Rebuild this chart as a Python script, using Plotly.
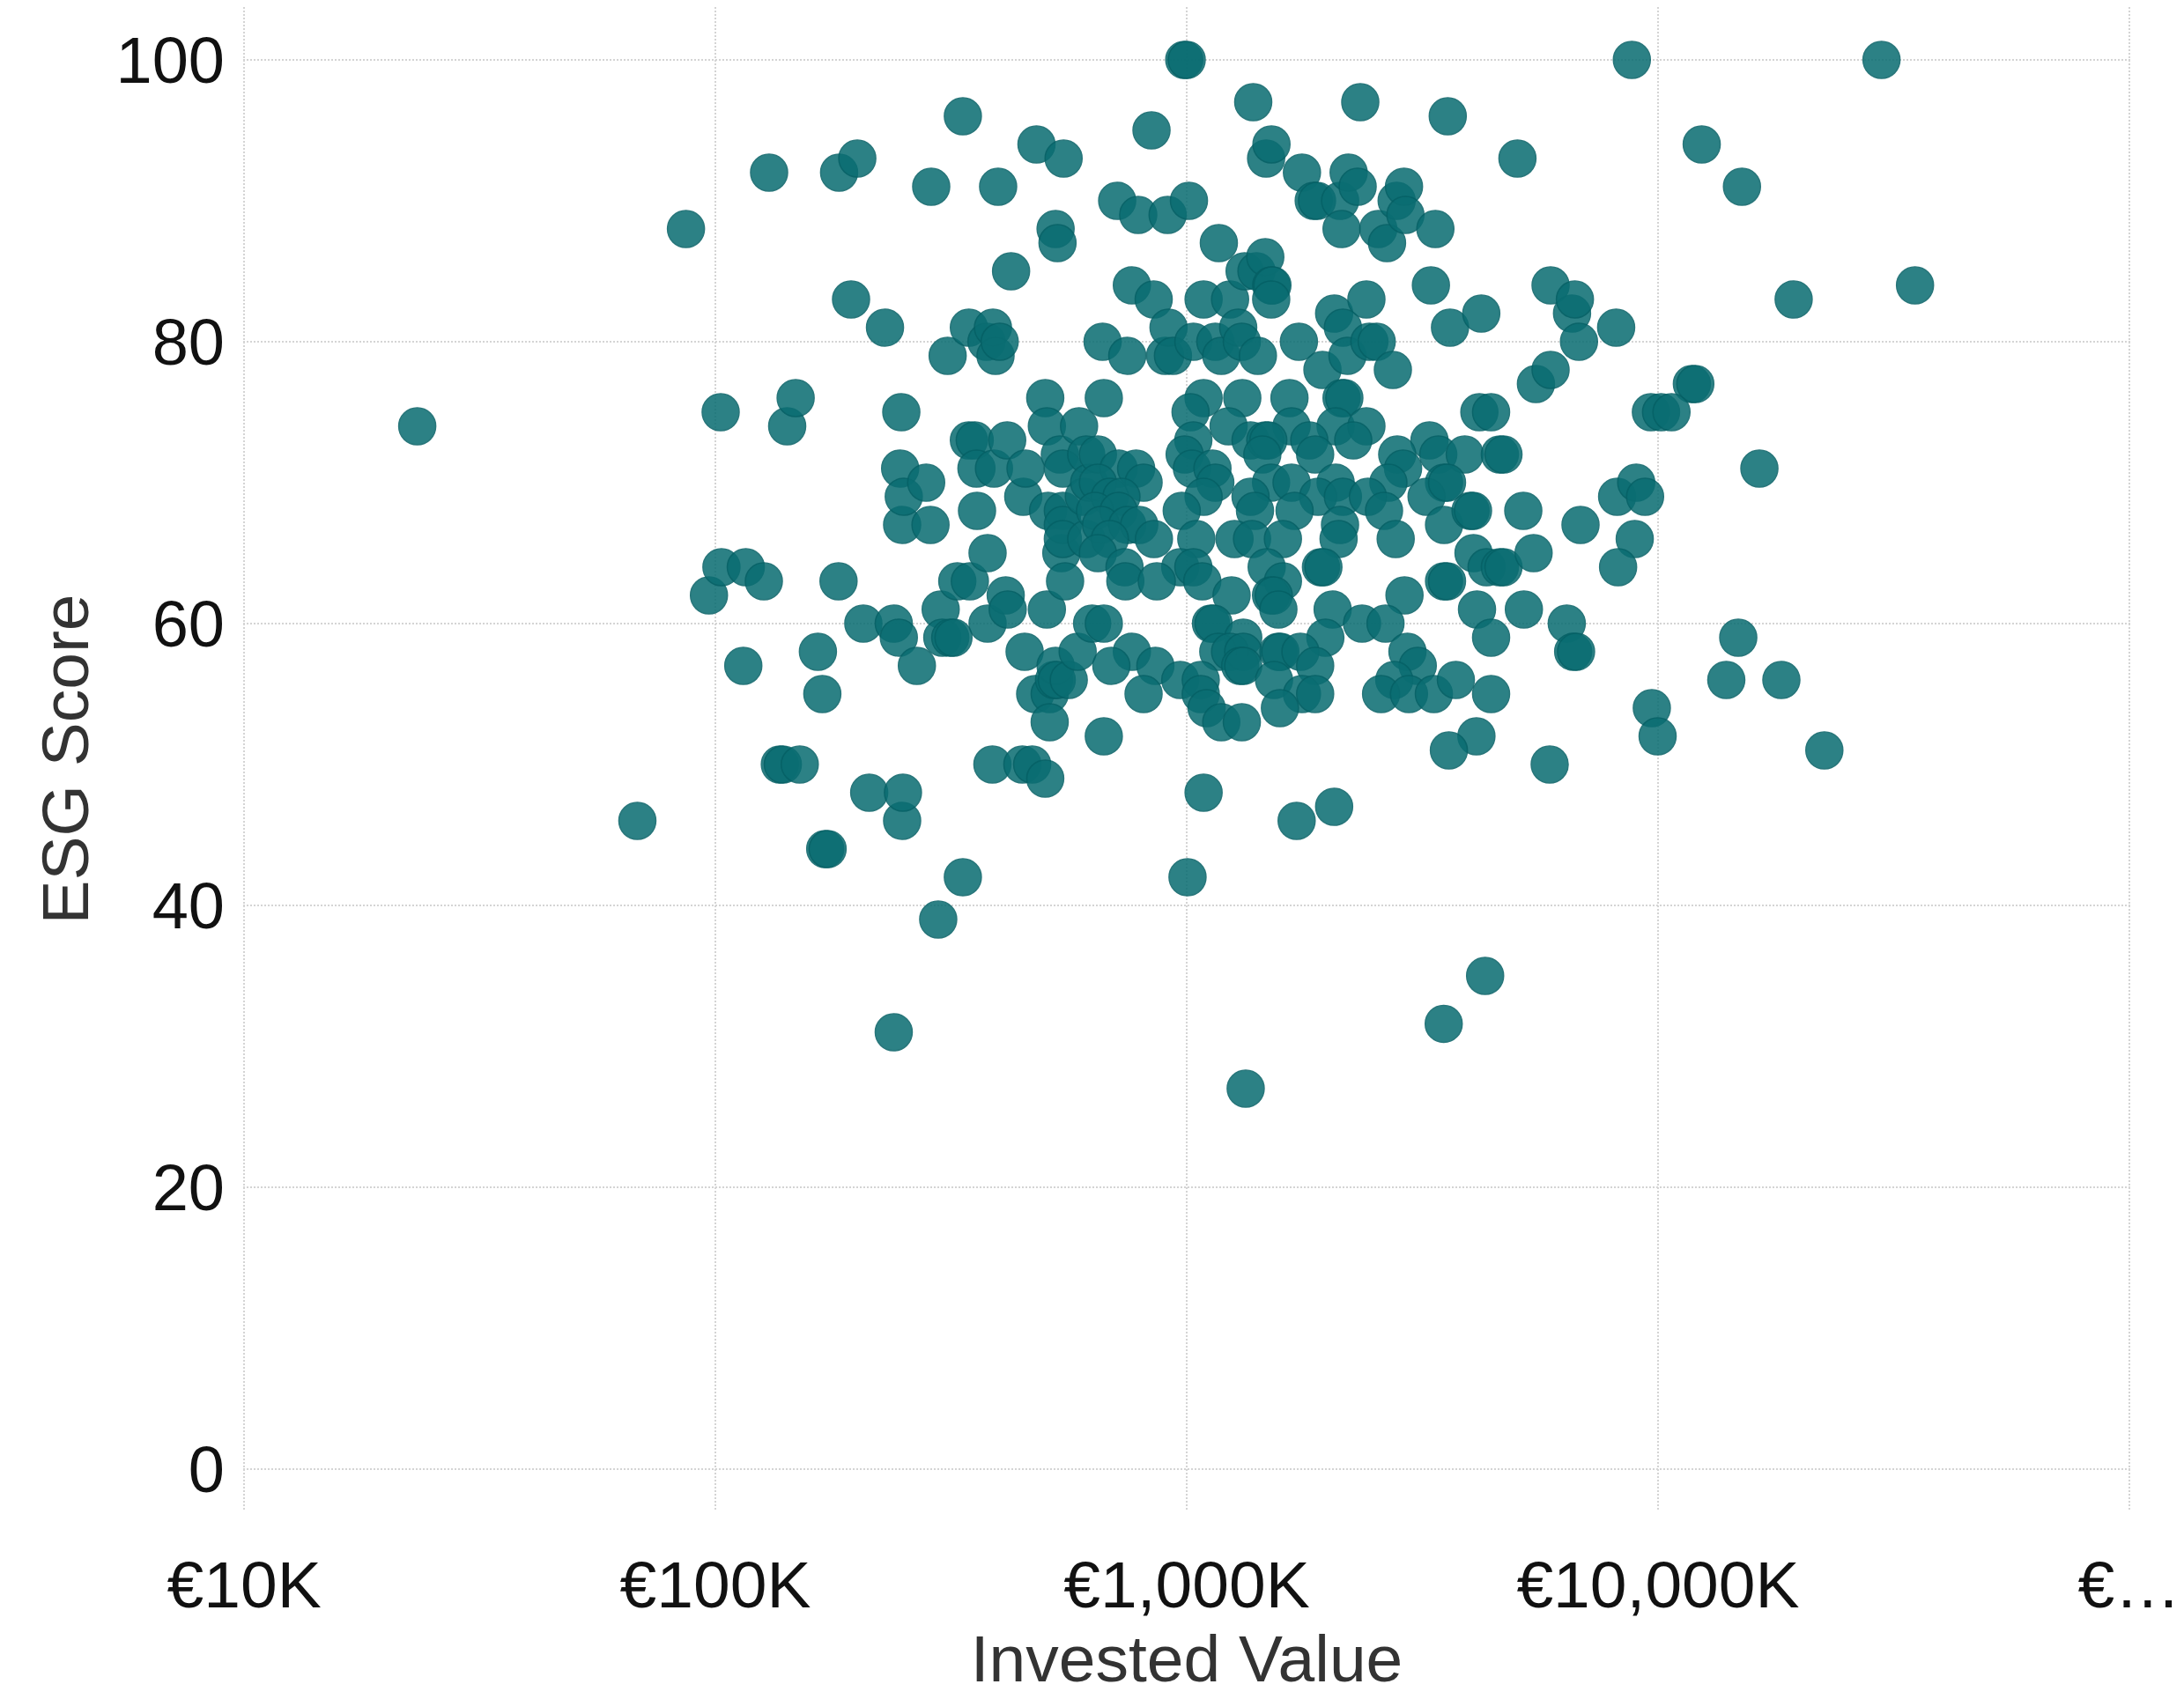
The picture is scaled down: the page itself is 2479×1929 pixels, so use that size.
import plotly.graph_objects as go

# Invested value in thousands of euros, ESG score
invested_a = [23.3, 68.3, 86.6, 96.9, 102.6, 103, 114.6, 116, 126.7, 130,
              137, 139, 142, 148, 151, 165, 168.6, 171, 173, 182.5,
              183, 194, 200, 206, 212, 229, 239, 239, 245, 246.6,
              248, 249, 249, 250, 251, 267.6, 280, 286, 287, 297,
              300.6, 303, 311, 315, 320, 326, 335, 335, 345, 345,
              346.7, 355, 358, 359, 376, 378, 378, 387, 388, 390,
              393, 398, 401, 413, 416, 417, 424, 448, 450, 453,
              455, 470, 477, 480, 501, 501, 505, 505, 508, 512,
              512, 523, 527, 527, 530, 532, 538, 542, 546, 546,
              546, 546, 548, 552, 562, 587, 591, 605, 612, 612,
              621, 630]
esg_a = [74, 46, 88, 62, 75, 64, 57, 64, 63, 92,
         50, 50, 74, 76, 50, 58, 55, 44, 44, 63,
         92, 83, 93, 60, 48, 81, 60, 31, 59, 71,
         75, 67, 46, 48, 69, 57, 70, 67, 91, 39,
         61, 59, 79, 59, 59, 63, 96, 42, 81, 73,
         63, 73, 71, 68, 80, 60, 65, 50, 81, 71,
         79, 91, 80, 62, 73, 61, 85, 50, 69, 58,
         71, 50, 55, 94, 76, 49, 74, 61, 68, 55,
         53, 56, 88, 57, 56, 87, 72, 65, 71, 68,
         67, 66, 93, 63, 56, 58, 74, 69, 72, 66,
         70, 60]

invested_b = [663, 712, 748, 765, 789, 842, 851, 900, 911, 915,
              935, 988, 1000, 1011, 1033, 1086, 1150, 1170, 1184, 1236,
              1286, 1309, 1327, 1384, 1406, 1416, 1468, 1474, 1511, 1520,
              1511, 1513, 1730, 1756, 1860, 1890, 1941, 2055, 2116, 2131,
              2145, 2193, 2206, 2305, 2335, 2406, 2441, 2530, 2550, 2661,
              2738, 2789, 2891, 2911, 3297, 3370]
esg_b = [80, 90, 79, 84, 89, 95, 83, 79, 89, 81,
         79, 100, 100, 90, 80, 83, 80, 87, 79, 83,
         81, 80, 85, 97, 85, 79, 86, 93, 84, 84,
         83, 94, 80, 92, 90, 90, 78, 82, 90, 88,
         81, 79, 92, 91, 97, 83, 80, 80, 88, 87,
         78, 90, 91, 89, 84, 88]

invested_c = [667, 1086, 1312, 1652, 2131, 2160,
              1019,
              1227, 1669, 2070, 2406,
              1033, 1366, 1468, 1490, 1820, 2256, 3274,
              648, 990, 1447, 1873, 2797, 3418,
              717, 781, 1026, 1134, 2878,
              648, 810, 1150, 1510, 1669, 2070, 2679, 3516,
              687, 727, 1086, 1366, 1900, 2145, 2424, 3228,
              639, 717, 976, 1396, 1694, 2622,
              658, 748, 793, 2115, 3516,
              687, 852, 1048, 1263, 1376, 1600, 2100, 2776,
              648,
              738, 969, 1033, 1478, 1927, 1950,
              741, 864, 1079, 1600, 3516,
              1245, 1510, 1530, 2898,
              1565, 2040,
              667, 1126, 1140, 2355, 2641,
              1318, 1969,
              765, 1167, 1236, 1318, 1565, 1580, 1743, 2940,
              692, 858, 1299, 1318, 1873, 3092,
              969, 1071, 1532, 2757,
              810, 1071, 1756, 1873, 2585, 2962, 3345,
              1102, 1577,
              1184, 1309,
              667]
esg_c = [76, 76, 76, 76, 76, 76,
         75,
         74, 74, 74, 74,
         73, 73, 73, 73, 73, 73, 73,
         72, 72, 72, 72, 72, 72,
         71, 71, 71, 71, 71,
         70, 70, 70, 70, 70, 70, 70, 70,
         69, 69, 69, 69, 69, 69, 69, 69,
         68, 68, 68, 68, 68, 68,
         67, 67, 67, 67, 67,
         66, 66, 66, 66, 66, 66, 66, 66,
         65,
         64, 64, 64, 64, 64, 64,
         63, 63, 63, 63, 63,
         62, 62, 62, 62,
         61, 61,
         60, 60, 60, 60, 60,
         59, 59,
         58, 58, 58, 58, 58, 58, 58, 58,
         57, 57, 57, 57, 57, 57,
         56, 56, 56, 56,
         55, 55, 55, 55, 55, 55, 55,
         54, 54,
         53, 53,
         52]

invested_d = [3580, 3620, 4217, 5032, 5508, 5916, 5916, 6570, 6663, 6797,
              8150, 8800, 11800, 12000, 12380, 15070, 19400]
esg_d = [96, 81, 82, 93, 77, 84, 78, 82, 83, 80,
         81, 100, 77, 77, 94, 91, 83]

invested_e = [4178, 4424, 9659, 10150, 10680, 16410, 3890, 4618, 4700, 3567,
              4002, 4050, 5178, 4060, 4328, 4618, 4700, 5445, 6848, 8190,
              8990, 9387, 8925, 8228, 3567, 4130, 5193, 4424, 6403, 6607,
              6700, 14800, 13960, 18270, 3725, 4424, 4118, 9702, 9980]
esg_e = [75, 75, 75, 75, 75, 71, 72, 72, 72, 70,
         68, 68, 68, 65, 64, 64, 64, 65, 67, 69,
         70, 69, 66, 64, 63, 61, 61, 59, 60, 58,
         58, 59, 56, 56, 56, 55, 52, 54, 52]

invested_f = [1004, 1086, 1334, 1711, 2055, 3510, 3600, 4297, 5891, 22540, 29800, 35100]
esg_f = [42, 48, 27, 46, 47, 31.6, 51, 35, 50, 51, 100, 84]

tick_values = [10, 100, 1000, 10000, 100000]
tick_labels = ["€10K", "€100K", "€1,000K", "€10,000K", "€…"]
y_ticks = [0, 20, 40, 60, 80, 100]

invested_k = invested_a + invested_b + invested_c + invested_d + invested_e + invested_f
esg_score = esg_a + esg_b + esg_c + esg_d + esg_e + esg_f
assert len(invested_k) == len(esg_score)

FONT = "Arial, 'Liberation Sans', Helvetica, sans-serif"
GRID = dict(showgrid=True, gridcolor="#d4d4d4", gridwidth=1.5, griddash="1.5px,2.5px",
            zeroline=False, showline=False, ticks="", automargin=False)

fig = go.Figure(
    go.Scatter(
        x=invested_k,
        y=esg_score,
        mode="markers",
        marker=dict(size=42, color="rgb(10,109,114)", opacity=0.86,
                    line=dict(color="rgb(5,96,101)", width=1.5)),
        hovertemplate="€%{x:,.0f}K<br>ESG %{y}<extra></extra>",
    )
)

fig.update_layout(
    width=2479,
    height=1929,
    margin=dict(l=268, r=69, t=0, b=221),
    paper_bgcolor="white",
    plot_bgcolor="white",
    font=dict(family=FONT, size=74, color="#111111"),
    showlegend=False,
    xaxis=dict(
        type="log",
        range=[0.998, 5.002],
        tickvals=tick_values,
        ticktext=tick_labels,
        tickfont=dict(size=75, color="#111111"),
        ticklabelstandoff=33,
        title=dict(text="Invested Value", font=dict(size=75, color="#333333"), standoff=8),
        **GRID,
    ),
    yaxis=dict(
        range=[-3.0, 103.75],
        tickvals=y_ticks,
        tickfont=dict(size=74, color="#111111"),
        ticklabelstandoff=20,
        title=dict(text="ESG Score", font=dict(size=75, color="#333333"), standoff=6),
        **GRID,
    ),
)

fig.write_html("out.html")
